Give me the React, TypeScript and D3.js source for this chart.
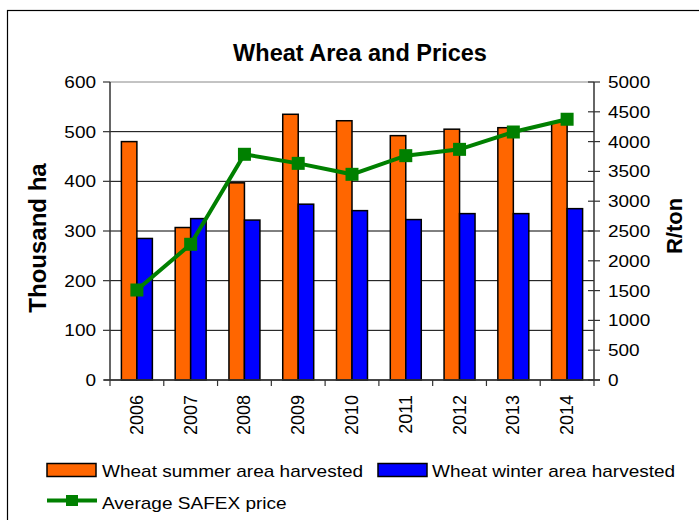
import React from "react";
import * as d3 from "d3";

const years = ["2006", "2007", "2008", "2009", "2010", "2011", "2012", "2013", "2014"];
const summerArea = [480, 307, 397, 535, 522, 492, 505, 508, 520];
const winterArea = [285, 325, 322, 354, 341, 323, 335, 335, 345];
const safexPrice = [1510, 2277, 3787, 3635, 3451, 3764, 3870, 4161, 4375];
const leftTicks = [0, 100, 200, 300, 400, 500, 600];
const rightTicks = [0, 500, 1000, 1500, 2000, 2500, 3000, 3500, 4000, 4500, 5000];

const W = 699;
const H = 520;
const plot = { left: 110, right: 594, top: 82, bottom: 380 };
const FONT = "'Liberation Sans', Arial, sans-serif";
const ORANGE = "#FF6600";
const BLUE = "#0000FF";
const GREEN = "#008000";

function SText(props: any) {
  const { x, y, sx = 1.15, children, ...rest } = props;
  return (
    <text transform={`translate(${x},${y}) scale(${sx},1)`} fontFamily={FONT} {...rest}>
      {children}
    </text>
  );
}

export default function App() {
  const x = d3.scaleBand<string>().domain(years).range([plot.left, plot.right]).paddingInner(0).paddingOuter(0);
  const yL = d3.scaleLinear().domain([0, 600]).range([plot.bottom, plot.top]);
  const yR = d3.scaleLinear().domain([0, 5000]).range([plot.bottom, plot.top]);
  const bw = x.bandwidth();
  const barW = bw * 0.288;
  const center = (yr: string) => (x(yr) as number) + bw / 2;
  const line = d3
    .line<number>()
    .x((_, i) => center(years[i]))
    .y((d) => yR(d));
  const ms = 13;

  return (
    <svg width={W} height={H} style={{ position: "absolute", left: 0, top: 0, background: "#fff" }}>
      <rect x={0} y={0} width={W} height={H} fill="#fff" />
      <rect x={7.5} y={10.5} width={720} height={540} fill="none" stroke="#000" strokeWidth={1.2} />
      <text x={360} y={61} textAnchor="middle" fontFamily={FONT} fontWeight="bold" fontSize={23.5}>
        Wheat Area and Prices
      </text>

      {/* gridlines */}
      {leftTicks.map((t) => (
        <line
          key={"g" + t}
          x1={plot.left}
          x2={plot.right}
          y1={yL(t)}
          y2={yL(t)}
          stroke={t === 600 ? "#888" : "#000"}
          strokeWidth={1}
        />
      ))}

      {/* bars */}
      {years.map((yr, i) => (
        <g key={"b" + yr}>
          <rect
            x={center(yr) - barW}
            y={yL(summerArea[i])}
            width={barW}
            height={plot.bottom - yL(summerArea[i])}
            fill={ORANGE}
            stroke="#000"
            strokeWidth={1.5}
          />
          <rect
            x={center(yr)}
            y={yL(winterArea[i])}
            width={barW}
            height={plot.bottom - yL(winterArea[i])}
            fill={BLUE}
            stroke="#000"
            strokeWidth={1.5}
          />
        </g>
      ))}

      {/* axes */}
      <line x1={plot.left} x2={plot.left} y1={plot.top} y2={plot.bottom} stroke="#333" strokeWidth={1.5} />
      <line x1={plot.right} x2={plot.right} y1={plot.top} y2={plot.bottom} stroke="#333" strokeWidth={1.5} />
      <line x1={plot.left - 6} x2={plot.right + 6} y1={plot.bottom} y2={plot.bottom} stroke="#333" strokeWidth={1.5} />
      {leftTicks.map((t) => (
        <g key={"lt" + t}>
          <line x1={plot.left - 7} x2={plot.left} y1={yL(t)} y2={yL(t)} stroke="#333" strokeWidth={1.2} />
          <SText x={96} y={yL(t) + 6} textAnchor="end" fontSize={16.5}>
            {t}
          </SText>
        </g>
      ))}
      {rightTicks.map((t) => (
        <g key={"rt" + t}>
          <line x1={plot.right - 6} x2={plot.right + 6} y1={yR(t)} y2={yR(t)} stroke="#333" strokeWidth={1.2} />
          <SText x={608} y={yR(t) + 6} textAnchor="start" fontSize={16.5}>
            {t}
          </SText>
        </g>
      ))}
      {[...years.map((yr) => x(yr) as number), plot.right].map((px, i) => (
        <line key={"xt" + i} x1={px} x2={px} y1={plot.bottom} y2={plot.bottom + 6} stroke="#333" strokeWidth={1.2} />
      ))}
      {years.map((yr) => (
        <text
          key={"xl" + yr}
          transform={`translate(${center(yr) + 6},395) rotate(-90)`}
          textAnchor="end"
          fontFamily={FONT}
          fontSize={18}
        >
          {yr}
        </text>
      ))}

      {/* axis titles */}
      <text
        transform="translate(46,238) rotate(-90)"
        textAnchor="middle"
        fontFamily={FONT}
        fontWeight="bold"
        fontSize={24}
      >
        Thousand ha
      </text>
      <text
        transform="translate(682,226) rotate(-90)"
        textAnchor="middle"
        fontFamily={FONT}
        fontWeight="bold"
        fontSize={22}
      >
        R/ton
      </text>

      {/* price line */}
      <path d={line(safexPrice) || ""} fill="none" stroke={GREEN} strokeWidth={4} />
      {safexPrice.map((p, i) => (
        <rect
          key={"m" + i}
          x={center(years[i]) - ms / 2}
          y={yR(p) - ms / 2}
          width={ms}
          height={ms}
          fill={GREEN}
        />
      ))}

      {/* legend */}
      <rect x={47} y={463.5} width={49} height={13} fill={ORANGE} stroke="#000" strokeWidth={1.5} />
      <SText x={102} y={477} fontSize={17} sx={1.12}>
        Wheat summer area harvested
      </SText>
      <rect x={378} y={463.5} width={49} height={13} fill={BLUE} stroke="#000" strokeWidth={1.5} />
      <SText x={432} y={477} fontSize={17} sx={1.12}>
        Wheat winter area harvested
      </SText>
      <line x1={47} x2={97} y1={500.5} y2={500.5} stroke={GREEN} strokeWidth={4} />
      <rect x={66} y={495} width={12} height={11} fill={GREEN} />
      <SText x={102} y={509} fontSize={17} sx={1.12}>
        Average SAFEX price
      </SText>
    </svg>
  );
}
